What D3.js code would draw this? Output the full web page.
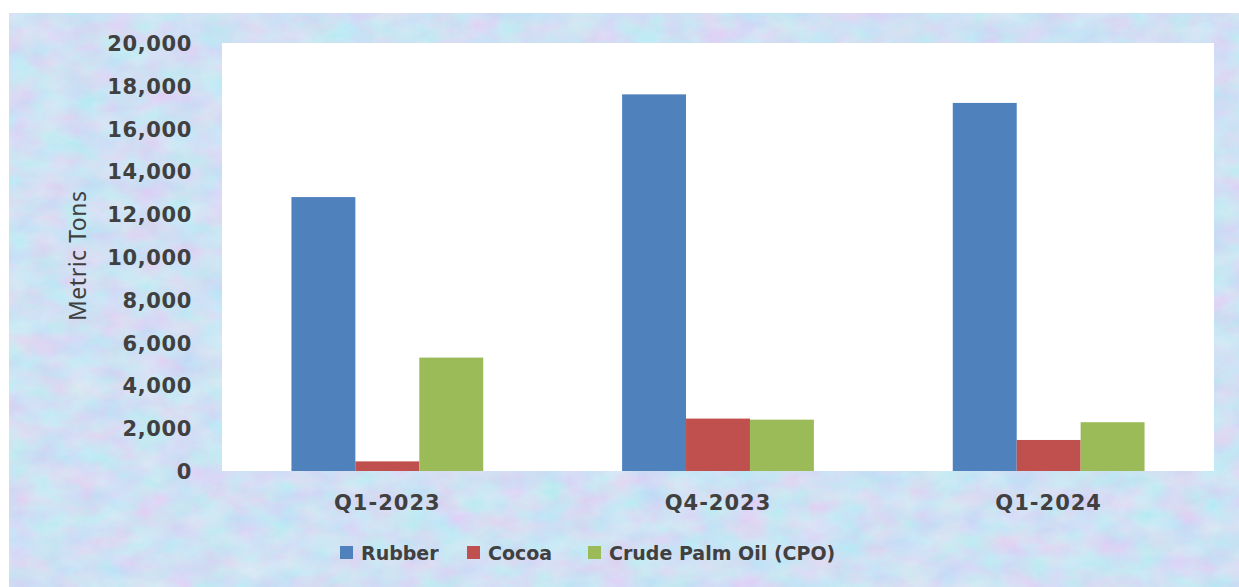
<!DOCTYPE html>
<html>
<head>
<meta charset="utf-8">
<script src="https://cdn.jsdelivr.net/npm/d3@7"></script>
<style>
  html, body { margin: 0; padding: 0; background: #ffffff; }
  svg { display: block; }
</style>
</head>
<body>
<svg id="chart" width="1239" height="587"></svg>
<script>
// ---- data ----
const categories = ["Q1-2023", "Q4-2023", "Q1-2024"];
const seriesNames = ["Rubber", "Cocoa", "Crude Palm Oil (CPO)"];
const rubber = [12800, 17600, 17200];
const cocoa = [450, 2450, 1450];
const cpo = [5300, 2400, 2280];
const yTicks = [0, 2000, 4000, 6000, 8000, 10000, 12000, 14000, 16000, 18000, 20000];
const yLabel = "Metric Tons";

const seriesValues = [rubber, cocoa, cpo];
const colors = ["#4f81bd", "#c0504d", "#9bbb59"];
const table = categories.map((c, i) => ({
  category: c,
  values: seriesNames.map((s, j) => ({ series: s, value: seriesValues[j][i] }))
}));

const svg = d3.select("#chart");
const W = 1239, H = 587;

// textured pastel background
const defs = svg.append("defs");
const f = defs.append("filter").attr("id", "tex").attr("x", 0).attr("y", 0).attr("width", "100%").attr("height", "100%");
f.append("feTurbulence").attr("type", "fractalNoise").attr("baseFrequency", "0.03 0.045").attr("numOctaves", 5).attr("seed", 11).attr("result", "n");
f.append("feColorMatrix").attr("in", "n").attr("type", "matrix")
  .attr("values", "0.6 -0.2 0 0 0.52  -0.2 0.5 0 0 0.72  0 0 0.15 0 0.86  0 0 0 0 1");
svg.append("rect").attr("x", 9).attr("y", 13).attr("width", W - 9).attr("height", H - 13)
  .attr("fill", "#bccbef");
svg.append("rect").attr("x", 9).attr("y", 13).attr("width", W - 9).attr("height", H - 13)
  .attr("filter", "url(#tex)").attr("opacity", 0.6);

const plot = { left: 222, top: 43, right: 1214, bottom: 471 };

svg.append("rect").attr("x", plot.left).attr("y", plot.top)
  .attr("width", plot.right - plot.left).attr("height", plot.bottom - plot.top)
  .attr("fill", "#ffffff");

const x0 = d3.scaleBand().domain(categories).range([plot.left, plot.right])
  .paddingInner(0.42).paddingOuter(0.21);
const x1 = d3.scaleBand().domain(seriesNames).range([0, x0.bandwidth()]).padding(0);
const y = d3.scaleLinear().domain([0, 20000]).range([plot.bottom, plot.top]);
const color = d3.scaleOrdinal().domain(seriesNames).range(colors);

// bars
svg.append("g").selectAll("g").data(table).join("g")
  .attr("transform", d => `translate(${x0(d.category)},0)`)
  .selectAll("rect").data(d => d.values).join("rect")
  .attr("x", d => x1(d.series))
  .attr("width", x1.bandwidth())
  .attr("y", d => y(d.value))
  .attr("height", d => y(0) - y(d.value))
  .attr("fill", d => color(d.series));

const textColor = "#404040";
const fontFam = "'DejaVu Sans', Verdana, sans-serif";

// y axis
const yAxis = d3.axisLeft(y).tickValues(yTicks).tickFormat(d3.format(",")).tickSize(0).tickPadding(0);
const gy = svg.append("g").attr("transform", `translate(192,0)`).call(yAxis);
gy.select(".domain").remove();
gy.selectAll("text").attr("fill", textColor).attr("font-family", fontFam)
  .attr("font-weight", "bold").attr("font-size", 21).attr("letter-spacing", 0.6).attr("dy", "0.36em");

// x axis
const xAxis = d3.axisBottom(x0).tickSize(0).tickPadding(0);
const gx = svg.append("g").attr("transform", `translate(0,${plot.bottom})`).call(xAxis);
gx.select(".domain").remove();
gx.selectAll("text").attr("fill", textColor).attr("font-family", fontFam)
  .attr("font-weight", "bold").attr("font-size", 21).attr("letter-spacing", 1)
  .attr("dy", "0").attr("y", 39);

// y label
svg.append("text")
  .attr("transform", `translate(86,256) rotate(-90)`)
  .attr("text-anchor", "middle")
  .attr("fill", textColor).attr("font-family", "'Noto Sans', sans-serif")
  .attr("font-size", 23).attr("textLength", 130).text(yLabel);

// legend
const legendX = [340, 467, 588];
const lg = svg.append("g").selectAll("g").data(seriesNames).join("g")
  .attr("transform", (d, i) => `translate(${legendX[i]},546)`);
lg.append("rect").attr("width", 13).attr("height", 13).attr("fill", d => color(d));
lg.append("text").attr("x", 21).attr("y", 14)
  .attr("fill", textColor).attr("font-family", fontFam)
  .attr("font-weight", "bold").attr("font-size", 19).text(d => d);
</script>
</body>
</html>
